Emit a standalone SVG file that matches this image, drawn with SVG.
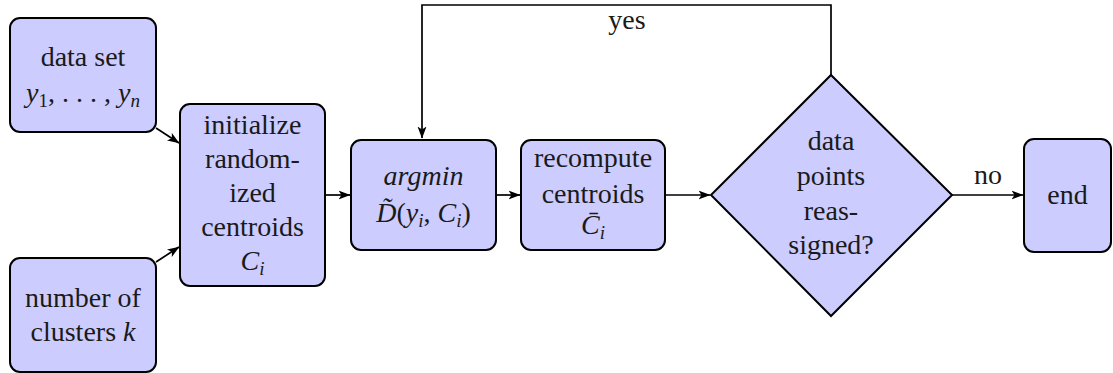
<svg xmlns="http://www.w3.org/2000/svg" width="1113" height="373" viewBox="0 0 1113 373" font-family="serif">
  <defs>
    <marker id="arrow" viewBox="0 0 12 10" refX="11.5" refY="5" markerWidth="12" markerHeight="10" markerUnits="userSpaceOnUse" orient="auto">
      <path d="M0,0.5 L12,5 L0,9.5 L3,5 Z" fill="#000"/>
    </marker>
  </defs>
  <style>
    .node { fill: #ccccff; stroke: #000; stroke-width: 2; }
    .edge { fill: none; stroke: #000; stroke-width: 1.7; marker-end: url(#arrow); }
    text { font-size: 28px; fill: #1a1a1a; text-anchor: middle; }
    .m { font-style: italic; }
    .sub { font-size: 19px; font-style: italic; }
    .subr { font-size: 19px; font-style: normal; }
  </style>

  <!-- connectors -->
  <g id="connectors">
    <path class="edge" d="M156,128 L179,143"/>
    <path class="edge" d="M156,262 L179,247"/>
    <path class="edge" d="M325,195 L350,195"/>
    <path class="edge" d="M496,195 L520,195"/>
    <path class="edge" d="M665,195 L710,195"/>
    <path class="edge" d="M952,195 L1023,195"/>
    <path class="edge" d="M831,75 V5 H422 V138"/>
    <text font-family="Liberation Serif" x="627" y="29">yes</text>
    <text font-family="Liberation Serif" x="988" y="184">no</text>
  </g>

  <!-- input: data set -->
  <g id="data-set">
    <rect class="node" x="10" y="18" width="146" height="114" rx="10"/>
    <text font-family="Liberation Serif" x="83" y="66">data set</text>
    <text font-family="Liberation Serif" x="83" y="102"><tspan class="m">y</tspan><tspan class="subr" dy="5">1</tspan><tspan dy="-5">, . . . , </tspan><tspan class="m">y</tspan><tspan class="sub" dy="5">n</tspan></text>
  </g>

  <!-- input: number of clusters -->
  <g id="num-clusters">
    <rect class="node" x="10" y="258" width="146" height="114" rx="10"/>
    <text font-family="Liberation Serif" x="83" y="307">number of</text>
    <text font-family="Liberation Serif" x="83" y="341">clusters <tspan class="m">k</tspan></text>
  </g>

  <!-- initialization step -->
  <g id="initialize">
    <rect class="node" x="180" y="104" width="145" height="182" rx="10"/>
    <text font-family="Liberation Serif" x="252.5" y="134">initialize</text>
    <text font-family="Liberation Serif" x="252.5" y="168">random-</text>
    <text font-family="Liberation Serif" x="252.5" y="202">ized</text>
    <text font-family="Liberation Serif" x="252.5" y="236">centroids</text>
    <text font-family="Liberation Serif" x="252.5" y="270"><tspan class="m">C</tspan><tspan class="sub" dy="5">i</tspan></text>
  </g>

  <!-- assignment step -->
  <g id="assign">
    <rect class="node" x="351" y="140" width="145" height="110" rx="10"/>
    <text font-family="Liberation Serif" x="423.5" y="185" class="m">argmin</text>
    <text font-family="Liberation Serif" x="423.5" y="222"><tspan class="m">D̃</tspan><tspan>(</tspan><tspan class="m">y</tspan><tspan class="sub" dy="5">i</tspan><tspan dy="-5">, </tspan><tspan class="m">C</tspan><tspan class="sub" dy="5">i</tspan><tspan dy="-5">)</tspan></text>
  </g>

  <!-- update step -->
  <g id="recompute">
    <rect class="node" x="521" y="140" width="144" height="110" rx="10"/>
    <text font-family="Liberation Serif" x="593" y="167">recompute</text>
    <text font-family="Liberation Serif" x="593" y="203">centroids</text>
    <text font-family="Liberation Serif" x="593" y="234"><tspan class="m">C̄</tspan><tspan class="sub" dy="5">i</tspan></text>
  </g>

  <!-- convergence test -->
  <g id="decision">
    <polygon class="node" points="831,75 952,195 831,316 711,195"/>
    <text font-family="Liberation Serif" x="831" y="150">data</text>
    <text font-family="Liberation Serif" x="831" y="185">points</text>
    <text font-family="Liberation Serif" x="831" y="220">reas-</text>
    <text font-family="Liberation Serif" x="831" y="254">signed?</text>
  </g>

  <!-- terminal -->
  <g id="end">
    <rect class="node" x="1024" y="139" width="87" height="113" rx="10"/>
    <text font-family="Liberation Serif" x="1067.5" y="204">end</text>
  </g>
</svg>
